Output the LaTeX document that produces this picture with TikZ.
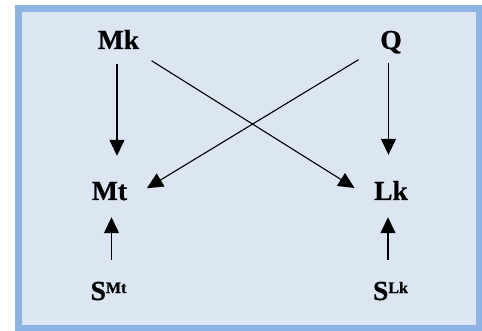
\documentclass[tikz,border=0pt]{standalone}
\usepackage{fontspec}
\setmainfont{Liberation Serif}[BoldFeatures={FakeBold=0.8}]
\usetikzlibrary{arrows.meta}
\definecolor{dagPanel}{HTML}{DCE6F2}
\definecolor{dagFrame}{HTML}{8EB4E3}
\definecolor{dagInk}{HTML}{000000}
\newcommand{\supvar}[1]{\raisebox{7pt}{\fontsize{16}{16}\selectfont #1}}
\tikzset{
  dag panel/.style={fill=dagPanel, draw=dagFrame, line width=6.5pt},
  dag node/.style={inner sep=0pt, text height=18pt, text depth=0pt, text=dagInk,
    font=\fontsize{27.5}{30}\selectfont\bfseries},
  dag link/.style={draw=dagInk, line width=1.4pt, -{Triangle[length=16pt,width=15pt]}},
}

\begin{document}
\begin{tikzpicture}[x=1pt,y=-1pt]
  \useasboundingbox (0,0) rectangle (482,331);
  % panel
  \draw[dag panel] (18.5,8.5) rectangle (479.5,328.3);
  % variables
  \node[dag node] (mk) at (118.5,40) {Mk};
  \node[dag node] (q) at (391,40) {Q};
  \node[dag node] (mt) at (109.5,191) {Mt};
  \node[dag node] (lk) at (391,191) {Lk};
  \node[dag node] (smt) at (108.5,291) {S\supvar{Mt}};
  \node[dag node] (slk) at (390.5,291) {S\supvar{Lk}};
  % vertical links
  \draw[dag link, shorten <=15pt, shorten >=26pt] ([xshift=-1.5pt]mk.south) -- ([xshift=-1.5pt]mk.south |- mt.north);
  \draw[dag link, shorten <=14pt, shorten >=27pt] ([xshift=-2.5pt]q.south) -- ([xshift=-2.5pt]q.south |- lk.north);
  \draw[dag link, shorten <=22pt, shorten >=17pt] ([xshift=3pt]smt.north) -- ([xshift=3pt]smt.north |- mt.south);
  \draw[dag link, shorten <=22pt, shorten >=17pt] ([xshift=-2.5pt]slk.north) -- ([xshift=-2.5pt]slk.north |- lk.south);
  % crossing links
  \draw[dag link, line width=1.1pt, shorten <=39pt, shorten >=23pt] (mk.center) -- (lk.south west);
  \draw[dag link, line width=1.1pt, shorten <=38pt, shorten >=23pt] (q.center) -- (mt.south east);
\end{tikzpicture}
\end{document}
